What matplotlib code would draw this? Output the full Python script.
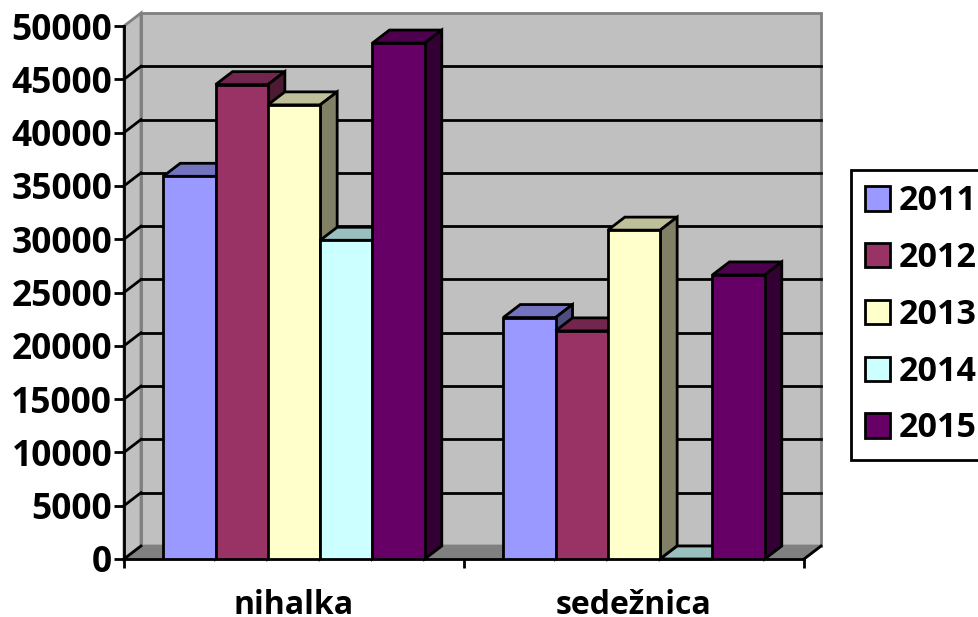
import matplotlib
matplotlib.use("Agg")
import matplotlib.pyplot as plt
from matplotlib.patches import Polygon

categories = ["nihalka", "sedežnica"]
years = ["2011", "2012", "2013", "2014", "2015"]
nihalka = [35900, 44500, 42600, 29900, 48400]
sedeznica = [22650, 21400, 30850, 0, 26650]
yticks = [0, 5000, 10000, 15000, 20000, 25000, 30000, 35000, 40000, 45000, 50000]

front_cols = ["#9999FF", "#993366", "#FFFFCC", "#CCFFFF", "#660066"]
top_cols = ["#7373BF", "#73264D", "#BFBF99", "#99BFBF", "#4D004D"]
side_cols = ["#4D4D80", "#4D1A33", "#808066", "#668080", "#330033"]

W, H = 979, 617
plt.rcParams["font.family"] = ["Open Sans", "DejaVu Sans"]
plt.rcParams["font.weight"] = "bold"

fig = plt.figure(figsize=(W / 100, H / 100), dpi=100)
ax = fig.add_axes([124 / W, 1 - 559 / H, 680 / W, 533 / H])
ax.set_xlim(0, 2)
ax.set_ylim(0, 50000)
ax.patch.set_visible(False)

# depth of the fake 3d box, in data units
dx = 0.05
dy = 1220
lw = 2
bar_w = 1 / 6.5


def face(pts, color, edge="black", z=3):
    ax.add_patch(Polygon(pts, closed=True, facecolor=color, edgecolor=edge, lw=lw,
                         joinstyle="miter", clip_on=False, zorder=z))


# walls and floor
face([(dx, dy), (2 + dx, dy), (2 + dx, 50000 + dy), (dx, 50000 + dy)], "#C0C0C0", "#808080", 1)
face([(0, 0), (dx, dy), (dx, 50000 + dy), (0, 50000)], "#C0C0C0", "#808080", 1)
face([(0, 0), (2, 0), (2 + dx, dy), (dx, dy)], "#808080", "#808080", 1)
ax.plot([2, 2 + dx], [0, dy], color="black", lw=lw, clip_on=False, zorder=1.5)

for t in yticks[1:-1]:
    ax.plot([dx, 2 + dx], [t + dy, t + dy], color="black", lw=lw, clip_on=False, zorder=1.5)
    ax.plot([0, dx], [t, t + dy], color="black", lw=lw, clip_on=False, zorder=1.5)
ax.plot([0, dx], [0, dy], color="black", lw=lw, clip_on=False, zorder=1.5)

# bars, left to right so later ones cover the sides of earlier ones
for i, year in enumerate(years):
    vals = [nihalka[i], sedeznica[i]]
    lefts = [c + (0.75 + i) * bar_w for c in range(len(categories))]
    z = 3 + i
    for x, v in zip(lefts, vals):
        face([(x, v), (x + bar_w, v), (x + bar_w + dx, v + dy), (x + dx, v + dy)], top_cols[i], z=z)
        if v > 0:
            face([(x + bar_w, 0), (x + bar_w + dx, dy), (x + bar_w + dx, v + dy), (x + bar_w, v)],
                 side_cols[i], z=z)
    ax.bar(lefts, vals, width=bar_w, align="edge", color=front_cols[i], edgecolor="black",
           linewidth=lw, label=year, zorder=z)

for s in ["top", "right"]:
    ax.spines[s].set_visible(False)
for s in ["left", "bottom"]:
    ax.spines[s].set_linewidth(lw)

ax.set_yticks(yticks)
ax.set_yticklabels([str(t) for t in yticks], fontsize=25.5, fontweight="bold")
ax.tick_params(axis="y", length=7.5, width=lw, pad=1)
ax.set_xticks([0, 1, 2])
ax.set_xticklabels([])
ax.tick_params(axis="x", which="major", length=6.5, width=lw)
ax.set_xticks([0.5, 1.5], minor=True)
ax.set_xticklabels(categories, minor=True, fontsize=23, fontweight="bold")
ax.tick_params(axis="x", which="minor", length=0, pad=21.5)

leg = ax.legend(loc="upper left", bbox_to_anchor=(851 / W, 1 - 170 / H), bbox_transform=fig.transFigure,
                prop={"family": "Open Sans", "weight": "bold", "size": 24.5}, frameon=True, fancybox=False,
                framealpha=1, edgecolor="black", borderaxespad=0, borderpad=0.42,
                handlelength=0.72, handleheight=0.72, handletextpad=0.25, labelspacing=0.67)
leg.get_frame().set_linewidth(lw)

fig.savefig("out.png", dpi=100)
